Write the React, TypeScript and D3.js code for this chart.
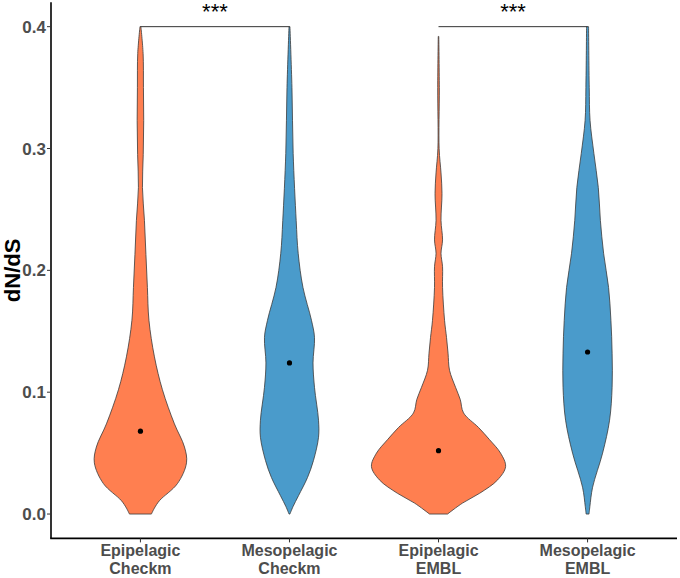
import React, { useEffect, useRef } from "react";
import * as d3 from "d3";

// x categories (two-line labels)
const zones = ["Epipelagic", "Mesopelagic", "Epipelagic", "Mesopelagic"];
const sources = ["Checkm", "Checkm", "EMBL", "EMBL"];
const means = [0.068, 0.124, 0.052, 0.133];

// violin outlines: [dN/dS, relative density]
const epiCheckm: [number, number][] = [
	[0.4, 0.007], [0.378, 0.04], [0.35, 0.045], [0.323, 0.049], [0.295, 0.042],
	[0.268, 0.03], [0.241, 0.06], [0.213, 0.082], [0.186, 0.104], [0.159, 0.127],
	[0.129, 0.209], [0.102, 0.328], [0.074, 0.507], [0.055, 0.657], [0.042, 0.687],
	[0.025, 0.552], [0.011, 0.284], [0.005, 0.21], [0, 0.164],
];
const mesoCheckm: [number, number][] = [
	[0.4, 0.007], [0.35, 0.037], [0.296, 0.055], [0.241, 0.1], [0.214, 0.13],
	[0.186, 0.201], [0.159, 0.328], [0.145, 0.373], [0.124, 0.351], [0.104, 0.373],
	[0.077, 0.433], [0.063, 0.433], [0.044, 0.358], [0.03, 0.269], [0.015, 0.134],
	[0.006, 0.052], [0, 0.007],
];
const epiEmbl: [number, number][] = [
	[0.392, 0.004], [0.35, 0.012], [0.3, 0.009], [0.28, 0.037], [0.263, 0.052],
	[0.241, 0.037], [0.225, 0.06], [0.214, 0.037], [0.203, 0.06], [0.186, 0.06],
	[0.159, 0.09], [0.145, 0.119], [0.132, 0.142], [0.118, 0.164], [0.104, 0.254],
	[0.094, 0.324], [0.083, 0.373], [0.071, 0.597], [0.061, 0.761], [0.05, 0.925],
	[0.039, 1.0], [0.028, 0.881], [0.017, 0.612], [0.009, 0.358], [0, 0.134],
];
const mesoEmbl: [number, number][] = [
	[0.4, 0.015], [0.35, 0.025], [0.323, 0.037], [0.296, 0.094], [0.268, 0.16],
	[0.241, 0.191], [0.214, 0.239], [0.186, 0.313], [0.159, 0.348], [0.132, 0.366],
	[0.104, 0.366], [0.077, 0.328], [0.05, 0.224], [0.022, 0.075], [0.006, 0.034],
	[0, 0.022],
];
const violins = [epiCheckm, mesoCheckm, epiEmbl, mesoEmbl];

const yTicks = [0, 0.1, 0.2, 0.3, 0.4];
const brackets: [number, number, number, string][] = [
	[0, 1, 0.4, "***"],
	[2, 3, 0.4, "***"],
];

const fillColors = ["#FF7F50", "#4A9BCB", "#FF7F50", "#4A9BCB"];

export default function App() {
	const ref = useRef<SVGSVGElement | null>(null);

	useEffect(function () {
		const svg = d3.select(ref.current);
		svg.selectAll("*").remove();

		const left = 51, right = 677, top = 2.3, bottom = 538.4;

		const x = d3
			.scaleBand<number>()
			.domain(d3.range(zones.length))
			.range([left, right])
			.paddingInner(0.1)
			.paddingOuter(0.15);
		const cx = function (i: number) {
			return (x(i) as number) + x.bandwidth() / 2;
		};

		const y = d3.scaleLinear().domain([-0.02, 0.42]).range([bottom, top]);

		const maxDens = d3.max(violins, (v) => d3.max(v, (d) => d[1])) as number;
		const w = d3.scaleLinear().domain([0, maxDens]).range([0, x.bandwidth() / 2]);

		// violins
		violins.forEach(function (pts, i) {
			const area = d3
				.area<[number, number]>()
				.y((d) => y(d[0]))
				.x0((d) => cx(i) - w(d[1]))
				.x1((d) => cx(i) + w(d[1]))
				.curve(d3.curveCatmullRom.alpha(0.5));
			svg
				.append("path")
				.attr("d", area(pts) as string)
				.attr("fill", fillColors[i])
				.attr("stroke", "#3a3a3a")
				.attr("stroke-width", 0.8);
		});

		// mean points
		svg
			.selectAll("circle.mean")
			.data(means)
			.enter()
			.append("circle")
			.attr("class", "mean")
			.attr("cx", (d, i) => cx(i))
			.attr("cy", (d) => y(d))
			.attr("r", 2.6)
			.attr("fill", "#000");

		// significance brackets
		brackets.forEach(function (b) {
			svg
				.append("line")
				.attr("x1", cx(b[0]))
				.attr("x2", cx(b[1]))
				.attr("y1", y(b[2]))
				.attr("y2", y(b[2]))
				.attr("stroke", "#333")
				.attr("stroke-width", 1);
			svg
				.append("text")
				.attr("x", (cx(b[0]) + cx(b[1])) / 2)
				.attr("y", 19)
				.attr("text-anchor", "middle")
				.style("font-family", "'Liberation Sans', Arial, sans-serif")
				.style("font-size", "22px")
				.attr("fill", "#000")
				.text(b[3]);
		});

		// axes
		const axisFont = "'Liberation Sans', Arial, sans-serif";
		svg
			.append("line")
			.attr("x1", left)
			.attr("x2", left)
			.attr("y1", top)
			.attr("y2", bottom)
			.attr("stroke", "#000")
			.attr("stroke-width", 1.6);
		svg
			.append("line")
			.attr("x1", left - 0.8)
			.attr("x2", right)
			.attr("y1", bottom)
			.attr("y2", bottom)
			.attr("stroke", "#000")
			.attr("stroke-width", 1.6);

		yTicks.forEach(function (t) {
			svg
				.append("line")
				.attr("x1", left - 4)
				.attr("x2", left)
				.attr("y1", y(t))
				.attr("y2", y(t))
				.attr("stroke", "#333")
				.attr("stroke-width", 1);
			svg
				.append("text")
				.attr("x", left - 5)
				.attr("y", y(t))
				.attr("dy", "0.36em")
				.attr("text-anchor", "end")
				.style("font-family", axisFont)
				.style("font-weight", "bold")
				.style("font-size", "17px")
				.attr("fill", "#4D4D4D")
				.text(d3.format(".1f")(t));
		});

		zones.forEach(function (z, i) {
			svg
				.append("line")
				.attr("x1", cx(i))
				.attr("x2", cx(i))
				.attr("y1", bottom)
				.attr("y2", bottom + 4)
				.attr("stroke", "#333")
				.attr("stroke-width", 1);
			svg
				.append("text")
				.attr("x", cx(i))
				.attr("y", 555.5)
				.attr("text-anchor", "middle")
				.style("font-family", axisFont)
				.style("font-weight", "bold")
				.style("font-size", "16px")
				.attr("fill", "#4D4D4D")
				.text(z);
			svg
				.append("text")
				.attr("x", cx(i))
				.attr("y", 574)
				.attr("text-anchor", "middle")
				.style("font-family", axisFont)
				.style("font-weight", "bold")
				.style("font-size", "16px")
				.attr("fill", "#4D4D4D")
				.text(sources[i]);
		});

		svg
			.append("text")
			.attr("transform", "translate(20," + (top + bottom) / 2 + ") rotate(-90)")
			.attr("text-anchor", "middle")
			.style("font-family", axisFont)
			.style("font-weight", "bold")
			.style("font-size", "22px")
			.attr("fill", "#000")
			.text("dN/dS");
	}, []);

	return (
		<svg
			ref={ref}
			width={680}
			height={578}
			style={{ position: "absolute", left: 0, top: 0, background: "#fff" }}
		/>
	);
}
